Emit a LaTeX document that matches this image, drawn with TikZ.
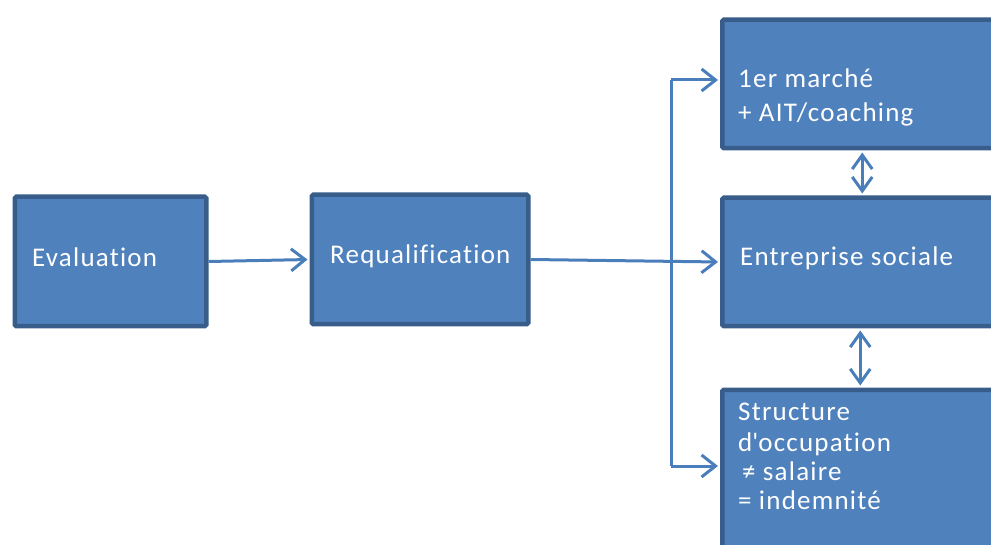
\documentclass[tikz,border=0pt]{standalone}
\usepackage{fontspec}
\setmainfont{Carlito}[LetterSpace=4.5,Ligatures={NoCommon}]
\usetikzlibrary{arrows.meta}
\definecolor{boxfill}{HTML}{4F81BD}
\definecolor{boxline}{HTML}{385D8A}
\definecolor{conncol}{HTML}{4A7EBB}
\tikzset{
  box/.style={rectangle, fill=boxfill, draw=boxline, line width=4.5pt, rounded corners=1.5pt, inner sep=0pt, anchor=north west},
  lbl/.style={anchor=base west, inner sep=0pt, text=white, font=\fontsize{27}{31}\selectfont},
  conn/.style={draw=conncol, line width=3pt, line join=miter},
  tip/.style={-{Straight Barb[length=14pt,width=22pt]}},
  dtip/.style={{Straight Barb[length=14pt,width=20pt]}-{Straight Barb[length=14pt,width=20pt]}}
}
\begin{document}
\begin{tikzpicture}[x=1pt,y=-1pt]
\useasboundingbox (0,0) rectangle (991,545);
\clip (0,0) rectangle (991,545);
% boxes
\node[box, minimum width=191.5pt, minimum height=129.5pt] (eval) at (12.5,194.5) {};
\node[box, minimum width=216.5pt, minimum height=129.5pt] (req) at (309.5,192.5) {};
\node[box, minimum width=300pt, minimum height=128.5pt] (top) at (720,17.5) {};
\node[box, minimum width=300pt, minimum height=128.5pt] (mid) at (720,195.5) {};
\node[box, minimum width=300pt, minimum height=200pt] (bot) at (720,387.5) {};
% labels
\node[lbl] (tEval) at (32,267) {Evaluation};
\node[lbl] (tReq) at (330,264) {Requalification};
\node[lbl] (tTop1) at (738,88) {1er marché};
\node[lbl] (tTop2) at (738,122) {+ AIT/coaching};
\node[lbl] (tMid) at (740,266) {Entreprise sociale};
\node[lbl] (tBot1) at (738,420) {Structure};
\node[lbl] (tBot2) at (738,451) {d\textquotesingle occupation};
\node[lbl] (tBot3) at (742,480) {≠ salaire};
\node[lbl] (tBot4) at (738,509) {= indemnité};
% connectors
\coordinate (vtop) at (671,80);
\coordinate (vbot) at (671,466);
\draw[conn, tip, shorten >=2pt] (eval.east) -- (req.west);
\draw[conn, tip, shorten >=2pt] (req.east) -- (mid.west);
\draw[conn] (vbot) -- (vtop);
\draw[conn, tip, shorten >=2pt] (vtop) -- (vtop -| top.west);
\draw[conn, tip, shorten >=2pt] (vbot) -- (vbot -| bot.west);
\draw[conn, dtip, shorten >=2pt, shorten <=2pt] ([xshift=-10pt]top.south) -- ([xshift=-10pt]mid.north);
\draw[conn, dtip, shorten >=2pt, shorten <=2pt] ([xshift=-12pt]mid.south) -- ([xshift=-12pt]bot.north);
\end{tikzpicture}
\end{document}
